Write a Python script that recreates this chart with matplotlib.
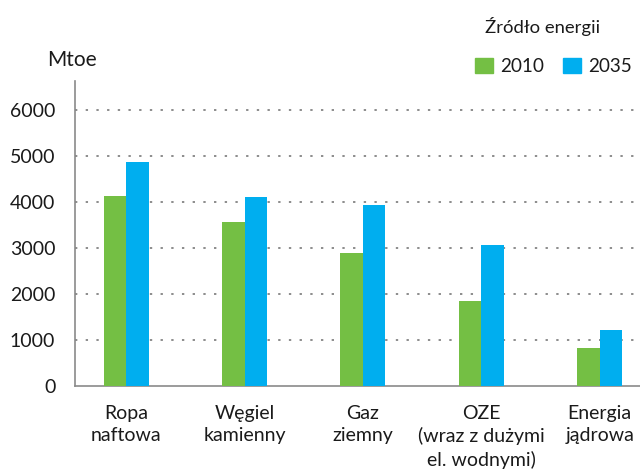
import matplotlib
matplotlib.use("Agg")
import matplotlib.pyplot as plt
from matplotlib.patches import Patch
import numpy as np

plt.rcParams['font.family'] = ['Lato', 'DejaVu Sans']

categories = ["Ropa\nnaftowa", "Węgiel\nkamienny", "Gaz\nziemny",
              "OZE\n(wraz z dużymi\nel. wodnymi)", "Energia\njądrowa"]
series_names = ["2010", "2035"]
values_2010 = [4130, 3545, 2870, 1845, 820]
values_2035 = [4850, 4090, 3935, 3065, 1215]
yticks = [0, 1000, 2000, 3000, 4000, 5000, 6000]

green = "#74BF44"
blue = "#00AEEF"
txt = "#1a1a1a"

fig = plt.figure(figsize=(6.4, 4.69), dpi=100)
W, H = 640, 469
left, right, top, bottom = 75.3, 640, 81, 385.5
ax = fig.add_axes([left / W, 1 - bottom / H, (right - left) / W, (bottom - top) / H])

x = np.arange(len(categories))
w = 0.19
ax.bar(x - w / 2, values_2010, width=w, color=green, zorder=3)
ax.bar(x + w / 2, values_2035, width=w, color=blue, zorder=3)

ax.set_xlim(-0.43, 4.34)
ax.set_ylim(0, 6620)
ax.set_yticks(yticks)
ax.set_yticklabels([str(v) for v in yticks], fontsize=14, color=txt)
ax.set_xticks(x)
ax.set_xticklabels(categories, fontsize=14, color=txt, linespacing=1.36, va="top")
ax.tick_params(axis="both", length=0)
ax.tick_params(axis="y", pad=14.4)
ax.tick_params(axis="x", pad=14)

for yv in yticks[1:]:
    ax.axhline(yv, color="#8c8c8c", linestyle=(0, (1.2, 4.3)), linewidth=1.4, zorder=1)

for s in ["top", "right"]:
    ax.spines[s].set_visible(False)
for s in ["left", "bottom"]:
    ax.spines[s].set_color("#8a8a8a")
    ax.spines[s].set_linewidth(1.2)

fig.text(47 / W, 1 - 66 / H, "Mtoe", fontsize=15, color=txt, va="baseline", ha="left")
fig.text(485 / W, 1 - 33 / H, "Źródło energii", fontsize=13.3, color=txt, va="baseline", ha="left")

handles = [Patch(color=green, label=series_names[0]), Patch(color=blue, label=series_names[1])]
leg = fig.legend(handles=handles, loc="center left", bbox_to_anchor=(475 / W, 1 - 66.4 / H),
                 ncol=2, frameon=False, fontsize=13.6,
                 handlelength=0.93, handleheight=0.91,
                 handletextpad=0.38, columnspacing=1.05, borderpad=0, borderaxespad=0)
for t in leg.get_texts():
    t.set_color(txt)

fig.savefig("out.png", dpi=100)
